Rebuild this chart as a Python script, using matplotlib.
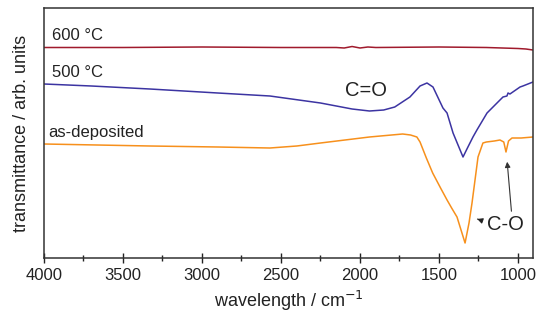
import matplotlib
matplotlib.use("Agg")
import matplotlib.pyplot as plt
from matplotlib.ticker import MultipleLocator

plt.rcParams['font.family'] = ['Liberation Sans', 'DejaVu Sans']

# wavenumber (cm-1) and transmittance (arb. units)
wn_600 = [4000, 3500, 3000, 2500, 2150, 2100, 2050, 2000, 1950, 1900, 1500, 1200, 1000, 950, 905]
tr_600 = [210.5, 210.5, 211, 210.5, 210.5, 210, 211.5, 210, 211, 210.5, 211, 210.5, 209.5, 209, 208]

wn_500 = [4000, 3700, 3330, 2900, 2570, 2250, 2050, 1940, 1850, 1780, 1684, 1620, 1576, 1538,
          1475, 1449, 1411, 1348, 1320, 1285, 1260, 1196, 1095, 1070, 1063, 1051, 987, 969, 905]
tr_500 = [174, 172, 169, 165, 162, 155, 149, 147, 148, 151, 161, 172, 175, 171,
          150, 145, 125, 101, 110, 121, 128, 145, 161, 162, 165, 164, 171, 172, 176]

wn_dep = [4000, 3330, 2900, 2570, 2400, 2250, 1940, 1730, 1680, 1640, 1620, 1580, 1540, 1490,
          1449, 1420, 1386, 1335, 1310, 1291, 1253, 1222, 1200, 1150, 1114, 1090, 1076, 1060,
          1038, 980, 905]
tr_dep = [114, 112, 111, 110, 112, 115, 121, 124, 123, 121, 116, 100, 85, 70,
          58, 50, 41, 15, 35, 55, 101, 115, 116, 117, 118, 116, 106, 117,
          120, 120, 121]

fig = plt.figure(figsize=(5.38, 3.24), dpi=100)
ax = fig.add_axes([44 / 538, 66 / 324, 489 / 538, 250 / 324])

ax.plot(wn_600, tr_600, color='#a01a2c', lw=1.1)
ax.plot(wn_500, tr_500, color='#3c34a2', lw=1.1)
ax.plot(wn_dep, tr_dep, color='#f7901c', lw=1.1)

ax.set_xlim(4000, 905)
ax.set_ylim(0, 250)
ax.xaxis.set_major_locator(MultipleLocator(500))
ax.xaxis.set_minor_locator(MultipleLocator(250))
ax.set_yticks([])
ax.tick_params(axis='x', which='major', direction='inout', length=7, width=1, labelsize=12,
               colors='#222222', pad=4)
ax.tick_params(axis='x', which='minor', direction='inout', length=4, width=1, colors='#222222')
for s in ax.spines.values():
    s.set_linewidth(1.1)
    s.set_color('#333333')

ax.set_xlabel('wavelength / cm$^{-1}$', fontsize=13, color='#222222', labelpad=4)
ax.set_ylabel('transmittance / arb. units', fontsize=13, color='#222222', labelpad=10)

ax.text(3950, 215, '600 °C', fontsize=12, color='#222222', va='bottom')
ax.text(3950, 178, '500 °C', fontsize=12, color='#222222', va='bottom')
ax.text(3975, 118, 'as-deposited', fontsize=12, color='#222222', va='bottom')
ax.text(1960, 167, 'C=O', fontsize=14.5, color='#222222', ha='center', va='center')
ax.text(1082, 34, 'C-O', fontsize=14.5, color='#222222', ha='center', va='center')

ax.annotate('', xy=(1070, 99), xytext=(1040, 44),
            arrowprops=dict(arrowstyle='-|>', color='#333333', lw=0.8, mutation_scale=8))
ax.annotate('', xy=(1275, 40), xytext=(1240, 38),
            arrowprops=dict(arrowstyle='-|>', color='#222222', lw=0.8, mutation_scale=8))

fig.savefig('out.png', dpi=100)
